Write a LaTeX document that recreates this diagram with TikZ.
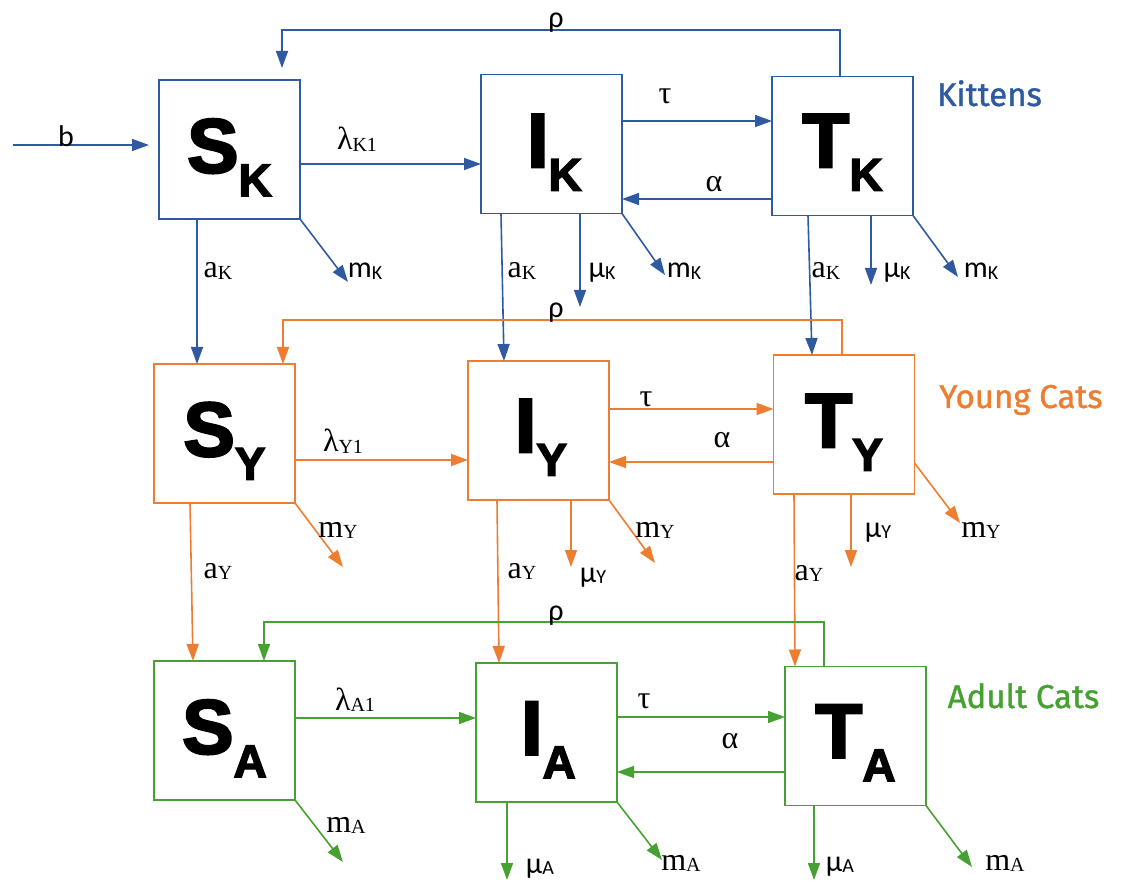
\documentclass[tikz,border=0pt]{standalone}
\usepackage{fontspec}
\setmainfont{Liberation Serif}
\newfontfamily\bigfnt{Liberation Sans Bold}[FakeBold=3]
\newfontfamily\sansl{Carlito}
\newfontfamily\titlef{Fira Sans}[FakeBold=1.2]
\usetikzlibrary{arrows.meta}

\definecolor{kblue}{RGB}{47,90,160}
\definecolor{yorange}{RGB}{237,125,49}
\definecolor{agreen}{RGB}{70,160,50}

% compartment letter with its age-class subscript
\newcommand\cmpt[2]{{\fontsize{77}{77}\selectfont #1}\raisebox{-23.5pt}{\fontsize{46}{46}\selectfont #2}}
% rate label with a small subscript
\newcommand\slab[2]{#1\raisebox{-1.5pt}{\fontsize{20}{20}\selectfont #2}}

\tikzset{
  box/.style={draw, line width=1.5pt, minimum width=141pt, minimum height=139pt, inner sep=0pt, outer sep=0pt},
  bigtxt/.style={inner sep=0pt, font=\bigfnt},
  arr/.style={line width=1.6pt, -{Triangle[length=17pt,width=12pt]}},
  lab/.style={inner sep=0pt, anchor=base, font=\fontsize{32}{32}\selectfont},
  lsans/.style={inner sep=0pt, anchor=base, font=\fontsize{30}{30}\selectfont\sansl},
  grp/.style={inner sep=0pt, anchor=base, font=\fontsize{33}{33}\selectfont\titlef},
}

\begin{document}
\begin{tikzpicture}[x=1pt,y=-1pt]
\useasboundingbox (0,0) rectangle (1128,882);

% ---------------- compartments ----------------
\node[box, draw=kblue] (SK) at (229.5,149.5) {};
\node[box, draw=kblue] (IK) at (551.5,144) {};
\node[box, draw=kblue] (TK) at (842.5,146) {};
\node[box, draw=yorange] (SY) at (224.5,433.5) {};
\node[box, draw=yorange] (IY) at (538.5,430.5) {};
\node[box, draw=yorange] (TY) at (844,424.5) {};
\node[box, draw=agreen] (SA) at (224.5,730.5) {};
\node[box, draw=agreen] (IA) at (546.5,732.5) {};
\node[box, draw=agreen] (TA) at (855.5,736) {};

\node[bigtxt] (SKt) at ([yshift=-8pt]SK.center) {\cmpt{S}{K}};
\node[bigtxt] (IKt) at ([xshift=3pt,yshift=-8.5pt]IK.center) {\cmpt{I}{K}};
\node[bigtxt] (TKt) at ([yshift=-6.5pt]TK.center) {\cmpt{T}{K}};
\node[bigtxt] (SYt) at ([yshift=-7.5pt]SY.center) {\cmpt{S}{Y}};
\node[bigtxt] (IYt) at ([xshift=2.5pt,yshift=-7pt]IY.center) {\cmpt{I}{Y}};
\node[bigtxt] (TYt) at ([yshift=-8pt]TY.center) {\cmpt{T}{Y}};
\node[bigtxt] (SAt) at ([yshift=-8pt]SA.center) {\cmpt{S}{A}};
\node[bigtxt] (IAt) at ([xshift=2pt,yshift=-7.5pt]IA.center) {\cmpt{I}{A}};
\node[bigtxt] (TAt) at ([yshift=-7pt]TA.center) {\cmpt{T}{A}};

% group names
\node[grp, text=kblue] (gK) at (989.5,106) {Kittens};
\node[grp, text=yorange] (gY) at (1021,408) {Young Cats};
\node[grp, text=agreen] (gA) at (1023.5,708) {Adult Cats};

% free ends and bends
\coordinate (bin) at (13,145);
\coordinate (rhoK) at (556,30);
\coordinate (rhoY) at (556,320);
\coordinate (rhoA) at (556,622);
\coordinate (mK1) at (348,282);
\coordinate (mK2) at (665,275);
\coordinate (mK3) at (958,277);
\coordinate (uK2) at (580,307);
\coordinate (uK3) at (871,285);
\coordinate (mY1) at (343,567);
\coordinate (mY2) at (655,563);
\coordinate (mY3) at (960,523);
\coordinate (uY2) at (571,567);
\coordinate (uY3) at (851,567);
\coordinate (mA1) at (343,862);
\coordinate (mA2) at (662,860);
\coordinate (mA3) at (972,867);
\coordinate (uA2) at (507,880);
\coordinate (uA3) at (814,880);

% ---------------- kittens ----------------
\begin{scope}[kblue]
\draw[arr, shorten >=10pt] (bin) -- (SK.west |- bin);
\draw[arr] (SK.east |- 0,164) -- (IK.west |- 0,164);
\draw[arr] (IK.east |- 0,121) -- (TK.west |- 0,121);
\draw[arr] (TK.west |- 0,199) -- (IK.east |- 0,199);
\draw[arr, shorten >=12pt] (TK.north -| 840,0) |- (rhoK) -| (SK.north -| 282,0);
\draw[arr] (SK.south -| 197,0) -- (SY.north -| 197,0);
\draw[arr] (IK.south -| 501,0) -- (IY.north -| 504,0);
\draw[arr] (TK.south -| 808,0) -- (TY.north -| 812,0);
\draw[arr] (SK.south east) -- (mK1);
\draw[arr] (IK.south east) -- (mK2);
\draw[arr] (TK.south east) -- (mK3);
\draw[arr] (IK.south -| uK2) -- (uK2);
\draw[arr] (TK.south -| uK3) -- (uK3);
\end{scope}

% ---------------- young cats ----------------
\begin{scope}[yorange]
\draw[arr] (SY.east |- 0,460) -- (IY.west |- 0,460);
\draw[arr] (IY.east |- 0,409) -- (TY.west |- 0,409);
\draw[arr] (TY.west |- 0,462) -- (IY.east |- 0,462);
\draw[arr] (TY.north -| 842,0) |- (rhoY) -| (SY.north -| 283,0);
\draw[arr] (SY.south -| 190,0) -- (SA.north -| 193,0);
\draw[arr] (IY.south -| 497,0) -- (IA.north -| 499,0);
\draw[arr] (TY.south -| 794,0) -- (TA.north -| 795,0);
\draw[arr] (SY.south east) -- (mY1);
\draw[arr] (IY.south east) -- (mY2);
\draw[arr] (TY.east |- 0,463) -- (mY3);
\draw[arr] (IY.south -| uY2) -- (uY2);
\draw[arr] (TY.south -| uY3) -- (uY3);
\end{scope}

% ---------------- adult cats ----------------
\begin{scope}[agreen]
\draw[arr] (SA.east |- 0,718) -- (IA.west |- 0,718);
\draw[arr] (IA.east |- 0,717) -- (TA.west |- 0,717);
\draw[arr] (TA.west |- 0,772) -- (IA.east |- 0,772);
\draw[arr] (TA.north -| 824,0) |- (rhoA) -| (SA.north -| 264,0);
\draw[arr] (SA.south east) -- (mA1);
\draw[arr] (IA.south east) -- (mA2);
\draw[arr] (TA.south east) -- (mA3);
\draw[arr] (IA.south -| uA2) -- (uA2);
\draw[arr] (TA.south -| uA3) -- (uA3);
\end{scope}

% ---------------- rate labels ----------------
\node[lsans] (lb) at (66,147) {b};
\node[lab] (lK1) at (357,150) {\slab{λ}{K1}};
\node[lab] (ltK) at (665,104) {τ};
\node[lab] (laK) at (714,192) {α};
\node[lsans] (lrK) at (556,28) {ρ};
\node[lab] (aK1) at (218,278) {\slab{a}{K}};
\node[lsans] (mKl1) at (365,278) {\slab{m}{K}};
\node[lab] (aK2) at (522,278) {\slab{a}{K}};
\node[lsans] (uKl2) at (602,278) {\slab{μ}{K}};
\node[lsans] (mKl2) at (684,278) {\slab{m}{K}};
\node[lab] (aK3) at (826,278) {\slab{a}{K}};
\node[lsans] (uKl3) at (897,278) {\slab{μ}{K}};
\node[lsans] (mKl3) at (981,278) {\slab{m}{K}};

\node[lab] (lY1) at (343,452) {\slab{λ}{Y1}};
\node[lab] (ltY) at (646,407) {τ};
\node[lab] (laY) at (722,448) {α};
\node[lsans] (lrY) at (556,318) {ρ};
\node[lab] (aY1) at (218,578) {\slab{a}{Y}};
\node[lab] (mYl1) at (338,537) {\slab{m}{Y}};
\node[lab] (aY2) at (522,578) {\slab{a}{Y}};
\node[lsans] (uYl2) at (593,582) {\slab{μ}{Y}};
\node[lab] (mYl2) at (655,537) {\slab{m}{Y}};
\node[lab] (aY3) at (809,580) {\slab{a}{Y}};
\node[lsans] (uYl3) at (878,537) {\slab{μ}{Y}};
\node[lab] (mYl3) at (981,537) {\slab{m}{Y}};

\node[lab] (lA1) at (355,710) {\slab{λ}{A1}};
\node[lab] (ltA) at (644,708) {τ};
\node[lab] (laA) at (730,748) {α};
\node[lsans] (lrA) at (556,620) {ρ};
\node[lab] (mAl1) at (346,832) {\slab{m}{A}};
\node[lsans] (uAl2) at (540,873) {\slab{μ}{A}};
\node[lab] (mAl2) at (681,870) {\slab{m}{A}};
\node[lsans] (uAl3) at (840,871) {\slab{μ}{A}};
\node[lab] (mAl3) at (1005,870) {\slab{m}{A}};
\end{tikzpicture}
\end{document}
